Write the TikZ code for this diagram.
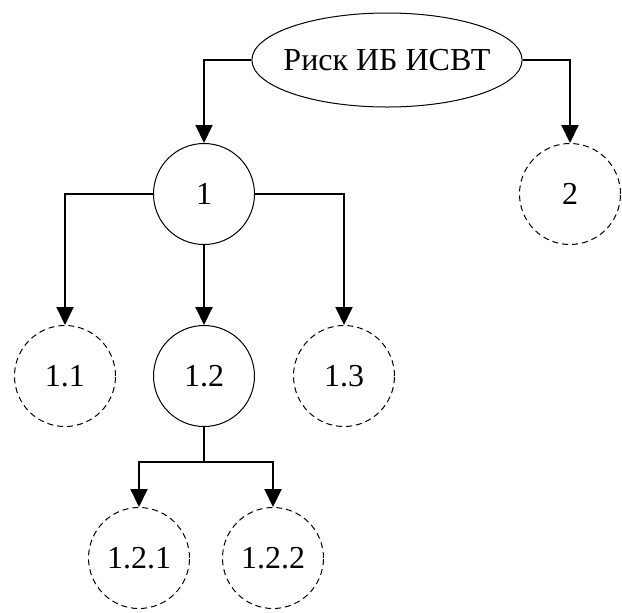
\documentclass[tikz,border=0pt]{standalone}
\usepackage{fontspec}
\setmainfont{Liberation Serif}
\usetikzlibrary{shapes.geometric,arrows.meta}

\begin{document}
\begin{tikzpicture}[x=0.5pt,y=-0.5pt,
	every node/.style={font=\fontsize{16}{19}\selectfont},
	risk/.style={draw,ellipse,line width=0.5pt,minimum height=47pt,inner xsep=-4pt,inner ysep=0pt},
	solidnode/.style={draw,circle,line width=0.5pt,minimum size=50.5pt,inner sep=0pt},
	dashnode/.style={solidnode,dash pattern=on 3pt off 2pt},
	link/.style={line width=1pt},
	arr/.style={link,-{Triangle[length=9pt,width=8.5pt]}}]
	\useasboundingbox (0,0) rectangle (622,612);
	\node[risk] (risk) at (387,60) {Риск ИБ ИСВТ};
	\node[solidnode] (n1) at (204,194) {1};
	\node[dashnode] (n2) at (570,194) {2};
	\node[dashnode] (n11) at (65,376) {1.1};
	\node[solidnode] (n12) at (204,376) {1.2};
	\node[dashnode] (n13) at (344,376) {1.3};
	\node[dashnode] (n121) at (139,558) {1.2.1};
	\node[dashnode] (n122) at (273,558) {1.2.2};
	\coordinate (split) at (204,462);
	\draw[arr] (risk.west) -| (n1.north);
	\draw[arr] (risk.east) -| (n2.north);
	\draw[arr] (n1.west) -| (n11.north);
	\draw[arr] (n1.east) -| (n13.north);
	\draw[arr] (n1) -- (n12);
	\draw[link] (n12) -- (split);
	\draw[arr] (split) -| (n121.north);
	\draw[arr] (split) -| (n122.north);
\end{tikzpicture}
\end{document}
